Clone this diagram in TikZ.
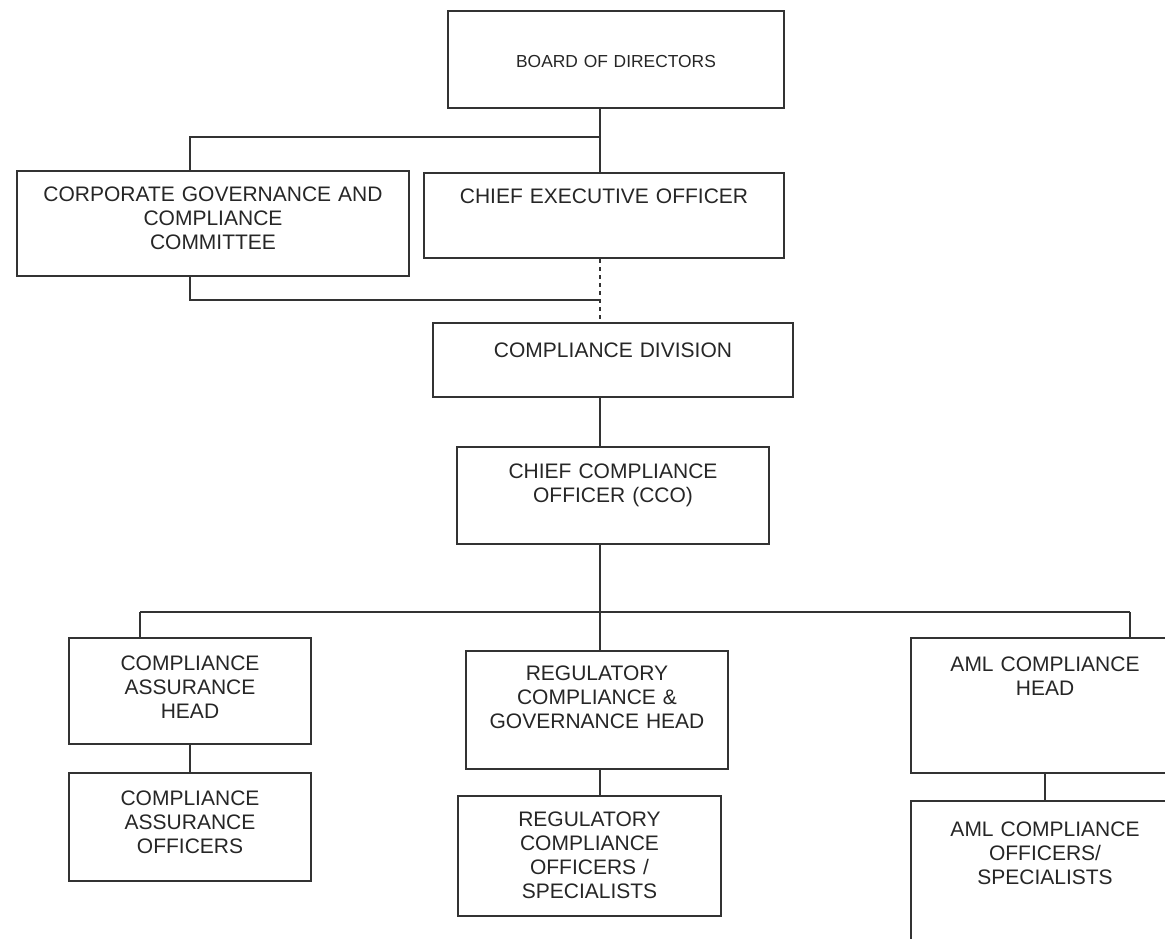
\documentclass[tikz,border=0pt]{standalone}
\usepackage{fontspec}
\setsansfont{Liberation Sans}
\usetikzlibrary{positioning, calc}

\begin{document}
\begin{tikzpicture}[
    % Global Styles (1 unit = 1 pixel of the layout, y grows downwards)
    x=0.5pt, y=-0.5pt,
    font=\sffamily\fontsize{10.5}{12}\selectfont,
    % Style for the boxes
    org_box/.style={draw=black!80, line width=1pt, anchor=north west, align=center,
        inner sep=0pt, text=black!85},
    % size of a box: width, first baseline from top, rest of the height
    box_dim/.style n args={3}{text width=#1, text height=#2, text depth=#3},
    % Style for the connectors
    org_link/.style={draw=black!80, line width=1pt},
    dotted_link/.style={org_link, dash pattern=on 2pt off 2pt}
]

%% --- FRAME ---
\useasboundingbox (0,0) rectangle (1165,938);
\clip (0,0) rectangle (1165,938);

%% --- TOP LEVEL ---
\node[org_box, box_dim={168pt}{28pt}{20.5pt}, font=\sffamily\fontsize{8.7}{10}\selectfont]
    (board) at (447,10) {BOARD OF DIRECTORS};

\node[org_box, box_dim={196pt}{15pt}{37.5pt}] (cgcc) at (16,170)
    {CORPORATE GOVERNANCE AND\\COMPLIANCE\\COMMITTEE};
\node[org_box, box_dim={180pt}{15pt}{27.5pt}] (ceo) at (423,172)
    {CHIEF EXECUTIVE OFFICER};

\node[org_box, box_dim={180pt}{17.25pt}{19.75pt}] (cdiv) at (432,322)
    {COMPLIANCE DIVISION};
\node[org_box, box_dim={156pt}{15.75pt}{32.75pt}] (cco) at (456,446)
    {CHIEF COMPLIANCE\\OFFICER (CCO)};

%% --- HEADS ---
\node[org_box, box_dim={121pt}{16.25pt}{36.75pt}] (cah) at (68,637)
    {COMPLIANCE\\ASSURANCE\\HEAD};
\node[org_box, box_dim={131pt}{14.75pt}{44.25pt}] (rcgh) at (465,650)
    {REGULATORY\\COMPLIANCE \&\\GOVERNANCE HEAD};
\node[org_box, box_dim={134pt}{16.75pt}{50.75pt}] (amlh) at (910,637)
    {AML COMPLIANCE\\HEAD};

%% --- OFFICERS ---
\node[org_box, box_dim={121pt}{16.25pt}{37.75pt}] (cao) at (68,772)
    {COMPLIANCE\\ASSURANCE\\OFFICERS};
\node[org_box, box_dim={131.5pt}{15.25pt}{44.75pt}] (rco) at (457,795)
    {REGULATORY\\COMPLIANCE\\OFFICERS /\\SPECIALISTS};
\node[org_box, box_dim={134pt}{17.75pt}{62.25pt}] (amlo) at (910,800)
    {AML COMPLIANCE\\OFFICERS/\\SPECIALISTS};

%% --- CONNECTORS ---
% junctions
\coordinate (j1) at (600,137);
\coordinate (j1l) at (190,137);
\coordinate (j2) at (600,300);
\coordinate (j2l) at (190,300);
\coordinate (j3) at (600,612);
\coordinate (j3l) at (140,612);
\coordinate (j3r) at (1130,612);

% board to committee and CEO
\draw[org_link] (board.south -| j1) -- (j1) -- (j1l) -- (cgcc.north -| j1l);
\draw[org_link] (j1) -- (ceo.north -| j1);

% committee and CEO to the division
\draw[dotted_link] (ceo.south -| j1) -- (cdiv.north -| j1);
\draw[org_link] (cgcc.south -| j2l) -- (j2l) -- (j2);
\draw[org_link] (cdiv.south -| j1) -- (cco.north -| j1);

% CCO to the heads
\draw[org_link] (cco.south -| j3) -- (j3);
\draw[org_link] (j3l) -- (j3r);
\draw[org_link] (j3l) -- (cah.north -| j3l);
\draw[org_link] (j3) -- (rcgh.north -| j3);
\draw[org_link] (j3r) -- (amlh.north -| j3r);

% heads to officers
\draw[org_link] (cah.south) -- (cao.north);
\draw[org_link] (rcgh.south -| j3) -- (rco.north -| j3);
\draw[org_link] (amlh.south) -- (amlh.south |- amlo.north);

\end{tikzpicture}
\end{document}
